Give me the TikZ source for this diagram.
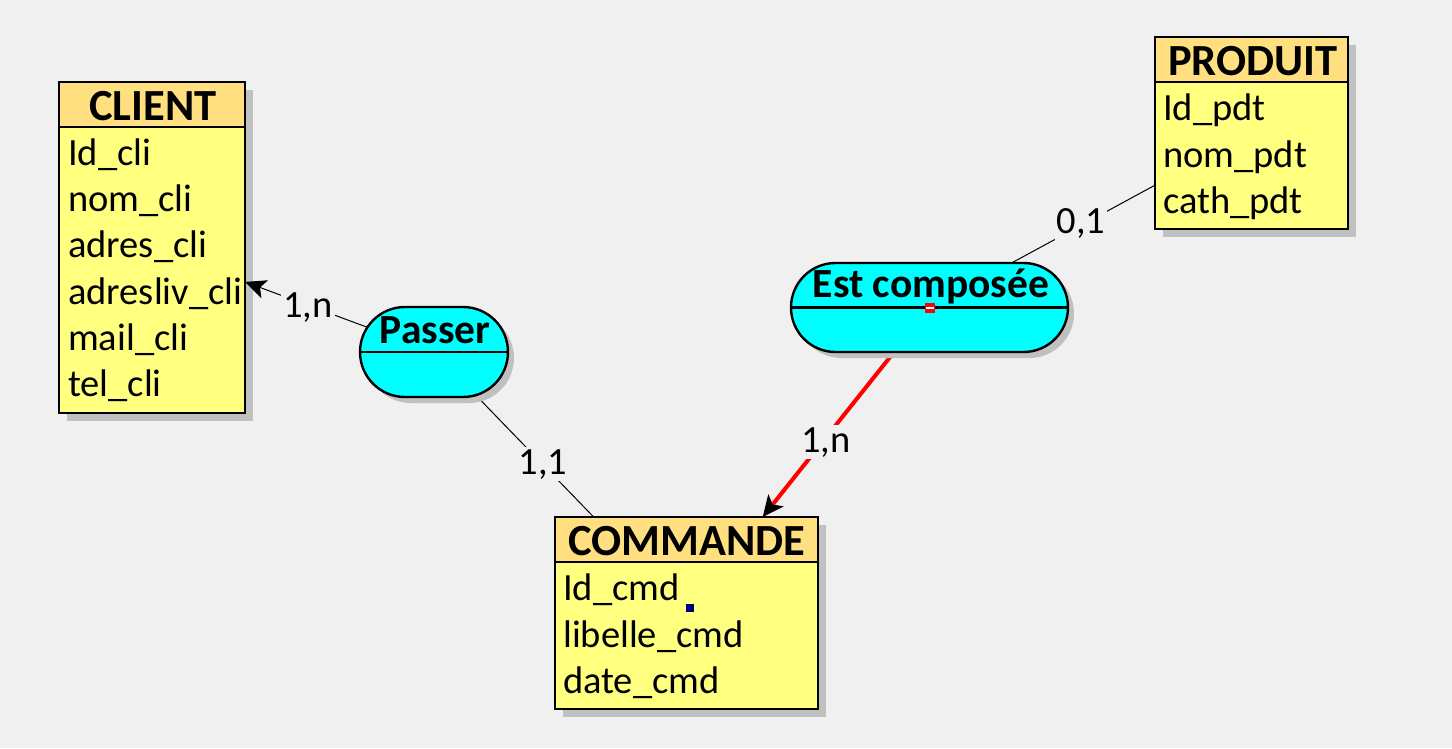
\documentclass[tikz,border=0pt]{standalone}
\usepackage{fontspec}
\setmainfont{Carlito}
\usetikzlibrary{shapes.misc,shadows,arrows.meta,calc}
\definecolor{bgc}{HTML}{F0F0F0}
\definecolor{bodyc}{HTML}{FFFF80}
\definecolor{headc}{HTML}{FFDF80}
\definecolor{relc}{HTML}{00FFFF}
\definecolor{shc}{HTML}{C0C0C0}
\definecolor{navyc}{HTML}{000080}
\pgfdeclarelayer{back}
\pgfsetlayers{back,main}
\tikzset{
 shadowed/.style={drop shadow={shadow xshift=#1,shadow yshift=-#1,fill=shc,opacity=1}},
 entity/.style={draw=black,line width=2.4pt,fill=bodyc,inner sep=0,outer sep=0,anchor=north west,shadowed=8pt},
 entityhead/.style={draw=black,line width=2.4pt,fill=headc,inner sep=0,outer sep=0,anchor=north west,minimum height=45pt},
 relation/.style={rounded rectangle,draw=black,line width=2.4pt,fill=relc,inner sep=0,outer sep=0,minimum height=90pt,shadowed=6pt},
 htext/.style={font=\bfseries\fontsize{44.5}{50}\selectfont,inner sep=0,anchor=base},
 rtext/.style={font=\bfseries\fontsize{41.5}{46}\selectfont,inner sep=0,anchor=base},
 attr/.style={font=\fontsize{38.5}{46}\selectfont,inner sep=0,anchor=base west},
 card/.style={font=\fontsize{38.5}{46}\selectfont,inner sep=2pt,anchor=base,fill=bgc},
 link/.style={line width=1pt,draw=black},
 redlink/.style={line width=4pt,draw=red},
 tip/.style={-{Stealth[length=21pt 0 0,width=19pt 0 0,inset=5pt,color=black]}},
}
\begin{document}
\begin{tikzpicture}[x=1pt,y=-1pt]
\begin{pgfonlayer}{back}
\fill[bgc] (0,0) rectangle (1452,748);
\end{pgfonlayer}
\useasboundingbox (0,0) rectangle (1452,748);

% CLIENT
\node[entity,minimum width=186pt,minimum height=331pt] (client) at (59,82) {};
\node[entityhead,minimum width=186pt] (clienth) at (client.north west) {};
\node[htext] (clientt) at (153,120) {CLIENT};
\node[attr] (c1) at (68,165) {Id\_cli};
\node[attr] (c2) at (68,211) {nom\_cli};
\node[attr] (c3) at (68,257) {adres\_cli};
\node[attr] (c4) at (68,304) {adresliv\_cli};
\node[attr] (c5) at (68,350) {mail\_cli};
\node[attr] (c6) at (68,396) {tel\_cli};

% PRODUIT
\node[entity,minimum width=193pt,minimum height=192pt] (produit) at (1155,37) {};
\node[entityhead,minimum width=193pt] (produith) at (produit.north west) {};
\node[htext] (produitt) at (1253,75) {PRODUIT};
\node[attr] (p1) at (1163,120) {Id\_pdt};
\node[attr] (p2) at (1163,167) {nom\_pdt};
\node[attr] (p3) at (1163,213) {cath\_pdt};

% COMMANDE
\node[entity,minimum width=263pt,minimum height=192pt] (commande) at (555,517) {};
\node[entityhead,minimum width=263pt] (commandeh) at (commande.north west) {};
\node[htext] (commandet) at (687,555) {COMMANDE};
\node[attr] (m1) at (563,600) {Id\_cmd};
\node[attr] (m2) at (563,647) {libelle\_cmd};
\node[attr] (m3) at (563,693) {date\_cmd};
\fill[navyc] (686,604) rectangle (694,612);

% Passer
\node[relation,minimum width=148pt] (passer) at (434,352) {};
\draw[line width=2.4pt] (passer.west) -- (passer.east);
\node[rtext] (passert) at (435,343) {Passer};

% Est composee
\node[relation,minimum width=277pt,minimum height=89pt] (estc) at (929.5,307.5) {};
\draw[line width=2.4pt] (estc.west) -- (estc.east);
\node[rtext] (estct) at (931,297) {Est composée};
\fill[red] (925,303) rectangle (935,313);
\fill[white] (926,306.8) rectangle (934,308.8);

% connectors
\draw[link,tip] (passer) -- (client);
\begin{pgfonlayer}{back}
\draw[link] (passer) -- (commande);
\draw[link] (estc) -- (produit);
\draw[redlink,tip] (estc) -- (commande);
\end{pgfonlayer}
\node[card] (l1) at (308,317) {1,n};
\node[card] (l2) at (543,474) {1,1};
\node[card] (l3) at (826,452) {1,n};
\node[card] (l4) at (1081,233) {0,1};
\end{tikzpicture}
\end{document}
